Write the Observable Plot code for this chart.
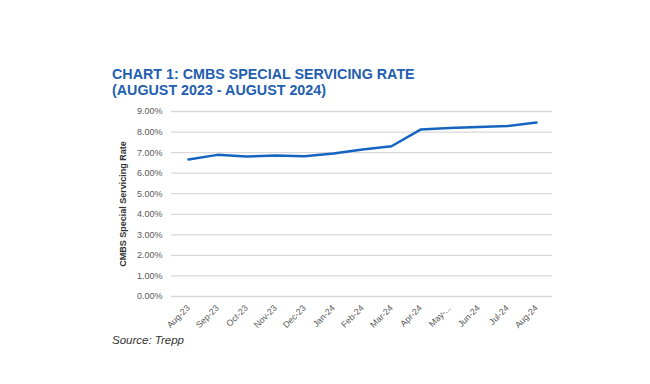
<!DOCTYPE html>
<html><head><meta charset="utf-8">
<script src="https://cdn.jsdelivr.net/npm/d3@7"></script>
<script src="https://cdn.jsdelivr.net/npm/@observablehq/plot@0.6"></script>
<style>
body{margin:0;background:#fff;font-family:"Liberation Sans",Arial,sans-serif;}
#wrap{position:relative;width:650px;height:384px;overflow:hidden;}
#title{position:absolute;left:112px;top:66px;color:#1f5fb0;font-weight:bold;font-size:14.3px;line-height:16px;}
#source{position:absolute;left:112px;top:334px;color:#333;font-style:italic;font-size:11.5px;}
</style></head>
<body><div id="wrap">
<div id="chart"></div>
<div id="title">CHART 1: CMBS SPECIAL SERVICING RATE<br>(AUGUST 2023 - AUGUST 2024)</div>
<div id="source">Source: Trepp</div>
</div>
<script>
const months = ["Aug-23","Sep-23","Oct-23","Nov-23","Dec-23","Jan-24","Feb-24","Mar-24","Apr-24","May-24","Jun-24","Jul-24","Aug-24"];
const monthLabels = ["Aug-23","Sep-23","Oct-23","Nov-23","Dec-23","Jan-24","Feb-24","Mar-24","Apr-24","May-...","Jun-24","Jul-24","Aug-24"];
const rates = [6.66, 6.89, 6.81, 6.86, 6.82, 6.96, 7.15, 7.31, 8.12, 8.20, 8.24, 8.29, 8.46];
const yTicks = [0,1,2,3,4,5,6,7,8,9];
const yLabel = "CMBS Special Servicing Rate";

const data = months.map((m,i)=>({month:m, rate:rates[i]}));
const labelOf = Object.fromEntries(months.map((m,i)=>[m, monthLabels[i]]));

const chart = Plot.plot({
  width: 650, height: 384,
  marginLeft: 171, marginRight: 98, marginTop: 111, marginBottom: 88,
  style: {fontFamily: '"Liberation Sans", Arial, sans-serif', background: "transparent"},
  x: {type: "point", domain: months, padding: 0.5},
  y: {domain: [0, 9]},
  marks: [
    Plot.gridY(yTicks, {stroke: "#d9d9d9", strokeOpacity: 1, strokeWidth: 1.3}),
    Plot.axisY(yTicks, {tickSize: 0, tickPadding: 9, fontSize: 9, fill: "#595959", tickFormat: d => d.toFixed(2) + "%", label: null}),
    Plot.axisX({tickSize: 0, tickPadding: 10, tickRotate: -45, fontSize: 8.8, fill: "#595959", tickFormat: d => labelOf[d], label: null}),
    Plot.text([yLabel], {frameAnchor: "left", textAnchor: "middle", rotate: -90, dx: -48, fontSize: 9, fontWeight: "bold", fill: "#333"}),
    Plot.line(data, {x: "month", y: "rate", stroke: "#1565c0", strokeWidth: 2.5, curve: "linear"})
  ]
});
chart.style.position = "absolute";
chart.style.left = "0";
chart.style.top = "0";
document.getElementById("chart").appendChild(chart);
</script>
</body></html>
